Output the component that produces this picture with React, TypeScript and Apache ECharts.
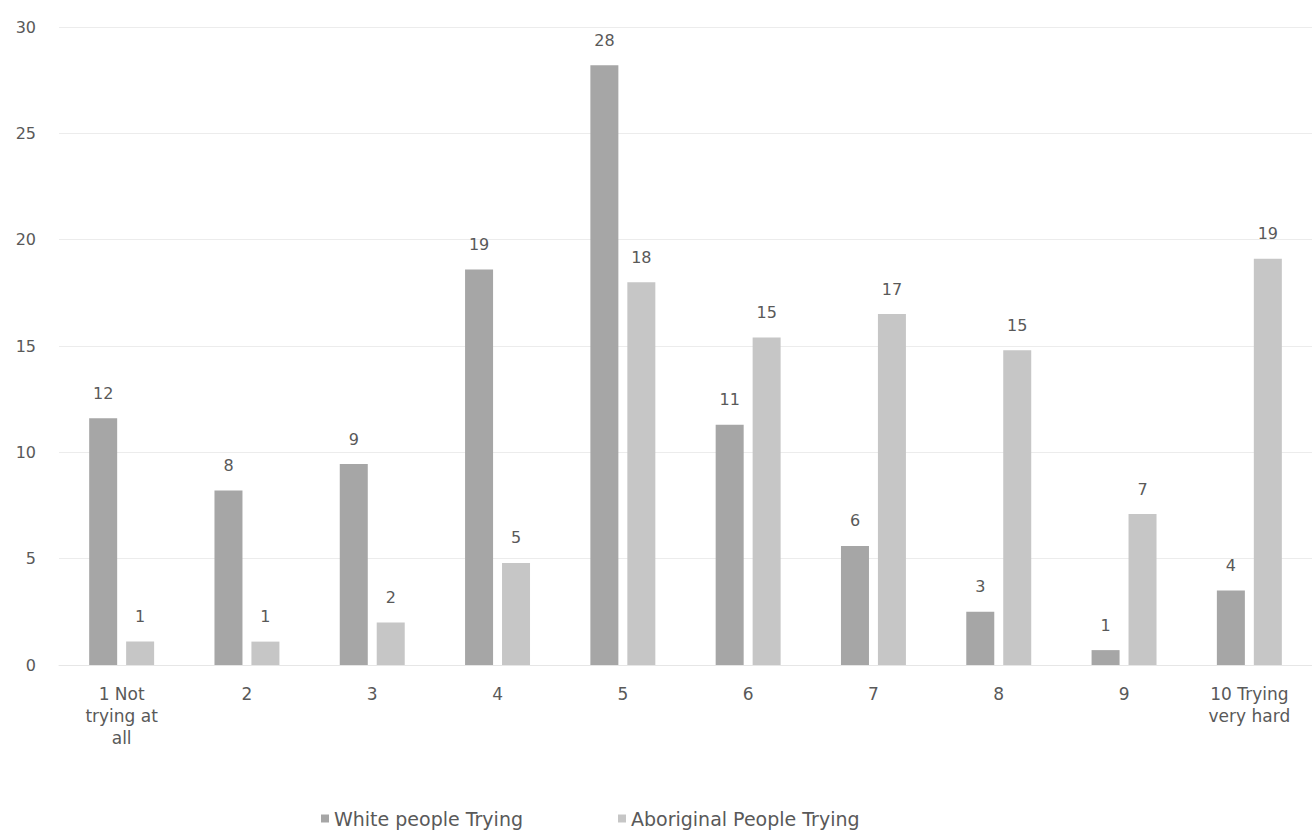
import React, { useEffect, useRef } from "react";
import * as echarts from "echarts";

const categories = ["1 Not\ntrying at\nall", "2", "3", "4", "5", "6", "7", "8", "9", "10 Trying\nvery hard"];
const whiteTrying = [11.6, 8.2, 9.45, 18.6, 28.2, 11.3, 5.6, 2.5, 0.7, 3.5];
const aboriginalTrying = [1.1, 1.1, 2.0, 4.8, 18.0, 15.4, 16.5, 14.8, 7.1, 19.1];
const yTicks = [0, 5, 10, 15, 20, 25, 30];
const seriesNames = ["White people Trying", "Aboriginal People Trying"];

const FONT = "'DejaVu Sans', sans-serif";
const TEXT = "#595959";

export default function App() {
  const ref = useRef<HTMLDivElement>(null);
  useEffect(() => {
    document.body.style.margin = "0";
    const chart = echarts.init(ref.current!, null, { renderer: "svg" });
    const label = {
      show: true,
      position: "top",
      distance: 17,
      color: TEXT,
      fontFamily: FONT,
      fontSize: 16,
      formatter: (p: any) => String(Math.round(p.value)),
    };
    chart.setOption({
      animation: false,
      backgroundColor: "#ffffff",
      textStyle: { fontFamily: FONT },
      grid: { left: 59, right: 0, top: 27, bottom: 170 },
      legend: {
        bottom: 2,
        left: 316,
        itemWidth: 8,
        itemHeight: 8,
        itemGap: 95,
        icon: "rect",
        textStyle: { color: TEXT, fontSize: 19, fontFamily: FONT },
        data: seriesNames,
      },
      xAxis: {
        type: "category",
        data: categories,
        axisLine: { show: true, lineStyle: { color: "#e6e6e6" } },
        axisTick: { show: false },
        axisLabel: { color: TEXT, fontSize: 17, fontFamily: FONT, margin: 18, lineHeight: 22, interval: 0 },
      },
      yAxis: {
        type: "value",
        min: yTicks[0],
        max: yTicks[yTicks.length - 1],
        interval: 5,
        axisLine: { show: false },
        axisTick: { show: false },
        axisLabel: { color: TEXT, fontSize: 16, fontFamily: FONT, margin: 23 },
        splitLine: { lineStyle: { color: "#ececec" } },
      },
      series: [
        {
          name: seriesNames[0],
          type: "bar",
          data: whiteTrying,
          barWidth: 28,
          barGap: "32%",
          itemStyle: { color: "#a6a6a6" },
          label,
        },
        {
          name: seriesNames[1],
          type: "bar",
          data: aboriginalTrying,
          barWidth: 28,
          itemStyle: { color: "#c6c6c6" },
          label,
        },
      ],
    });
    return () => chart.dispose();
  }, []);
  return <div ref={ref} style={{ width: 1312, height: 835 }} />;
}
